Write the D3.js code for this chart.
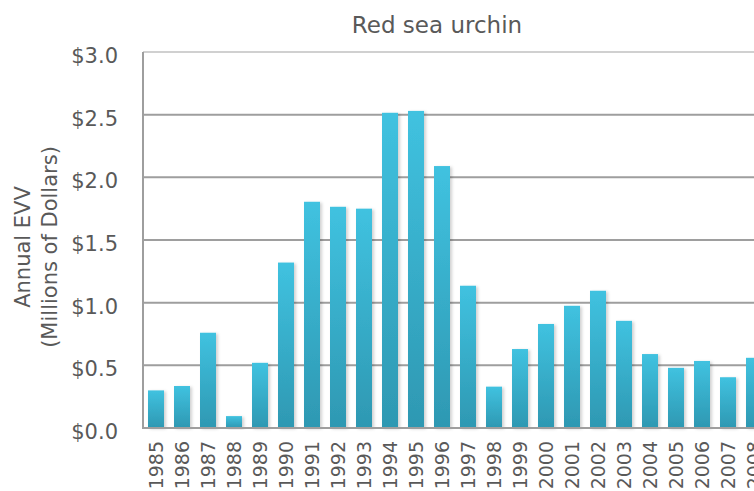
<!DOCTYPE html>
<html><head><meta charset="utf-8">
<script src="https://cdn.jsdelivr.net/npm/d3@7"></script>
<style>
html,body{margin:0;padding:0;background:#fff;overflow:hidden}
text{font-family:"DejaVu Sans",sans-serif;fill:#595959}
</style></head><body>
<svg id="c" width="754" height="491"></svg>
<script>
const title = "Red sea urchin";
const yTitleLines = ["Annual EVV", "(Millions of Dollars)"];
const years = ["1985","1986","1987","1988","1989","1990","1991","1992","1993","1994","1995","1996","1997","1998","1999","2000","2001","2002","2003","2004","2005","2006","2007","2008"];
const values = [0.30,0.335,0.76,0.095,0.52,1.32,1.805,1.765,1.75,2.515,2.53,2.09,1.135,0.33,0.63,0.83,0.975,1.095,0.855,0.59,0.48,0.535,0.405,0.56];
const yTicks = [0,0.5,1.0,1.5,2.0,2.5,3.0];

const svg = d3.select("#c");
const pl = 143, pt = 52, pb = 428;
const x = d3.scaleBand().domain(years).range([pl, pl + 624]).paddingInner(10/26).paddingOuter(5/26);
const y = d3.scaleLinear().domain([0,3]).range([pb, pt]);

const defs = svg.append("defs");
const g = defs.append("linearGradient").attr("id","bg").attr("x1",0).attr("y1",0).attr("x2",0).attr("y2",1);
g.append("stop").attr("offset","0%").attr("stop-color","#40c2e0");
g.append("stop").attr("offset","100%").attr("stop-color","#2e98b2");
const f = defs.append("filter").attr("id","sh").attr("x","-30%").attr("y","-10%").attr("width","160%").attr("height","120%");
f.append("feDropShadow").attr("dx",2).attr("dy",1).attr("stdDeviation",1.5).attr("flood-color","#000").attr("flood-opacity",0.18);

// gridlines
svg.append("g").selectAll("line").data(yTicks).join("line")
  .attr("x1", pl).attr("x2", 754)
  .attr("y1", d => y(d)).attr("y2", d => y(d))
  .attr("stroke", d => d === 3 ? "#d0d0d0" : "#9e9e9e")
  .attr("stroke-width", 2);

// bars
svg.append("g").selectAll("rect").data(years).join("rect")
  .attr("x", d => x(d)).attr("width", x.bandwidth())
  .attr("y", (d,i) => y(values[i])).attr("height", (d,i) => y(0) - y(values[i]))
  .attr("fill","url(#bg)").attr("filter","url(#sh)");

// axis lines
svg.append("line").attr("x1",pl).attr("x2",pl).attr("y1",pt).attr("y2",pb+1).attr("stroke","#9e9e9e").attr("stroke-width",2);
svg.append("line").attr("x1",pl).attr("x2",754).attr("y1",pb).attr("y2",pb).attr("stroke","#9e9e9e").attr("stroke-width",2);

// y tick labels
const yAxis = d3.axisLeft(y).tickValues(yTicks).tickFormat(d => "$" + d.toFixed(1)).tickSize(0).tickPadding(25);
const ya = svg.append("g").attr("transform",`translate(${pl},0)`).call(yAxis);
ya.select(".domain").remove();
ya.selectAll("text").attr("font-size",21).attr("fill","#595959").attr("font-family","DejaVu Sans, sans-serif").attr("dy","0.5em");

// x tick labels
const xAxis = d3.axisBottom(x).tickSize(0).tickPadding(0);
const xa = svg.append("g").attr("transform",`translate(0,${pb})`).call(xAxis);
xa.select(".domain").remove();
xa.selectAll("text").attr("font-size",19).attr("fill","#595959").attr("font-family","DejaVu Sans, sans-serif")
  .attr("text-anchor","end").attr("dy",null).attr("y",0)
  .attr("transform","translate(7,13) rotate(-90)");

// title
svg.append("text").attr("x",437).attr("y",33).attr("text-anchor","middle").attr("font-size",23).text(title);

// y title
const yt = svg.append("text").attr("transform","translate(30,247) rotate(-90)").attr("text-anchor","middle").attr("font-size",21);
yt.selectAll("tspan").data(yTitleLines).join("tspan").attr("x",0).attr("dy",(d,i)=> i===0 ? 0 : 27).text(d=>d);
</script></body></html>
